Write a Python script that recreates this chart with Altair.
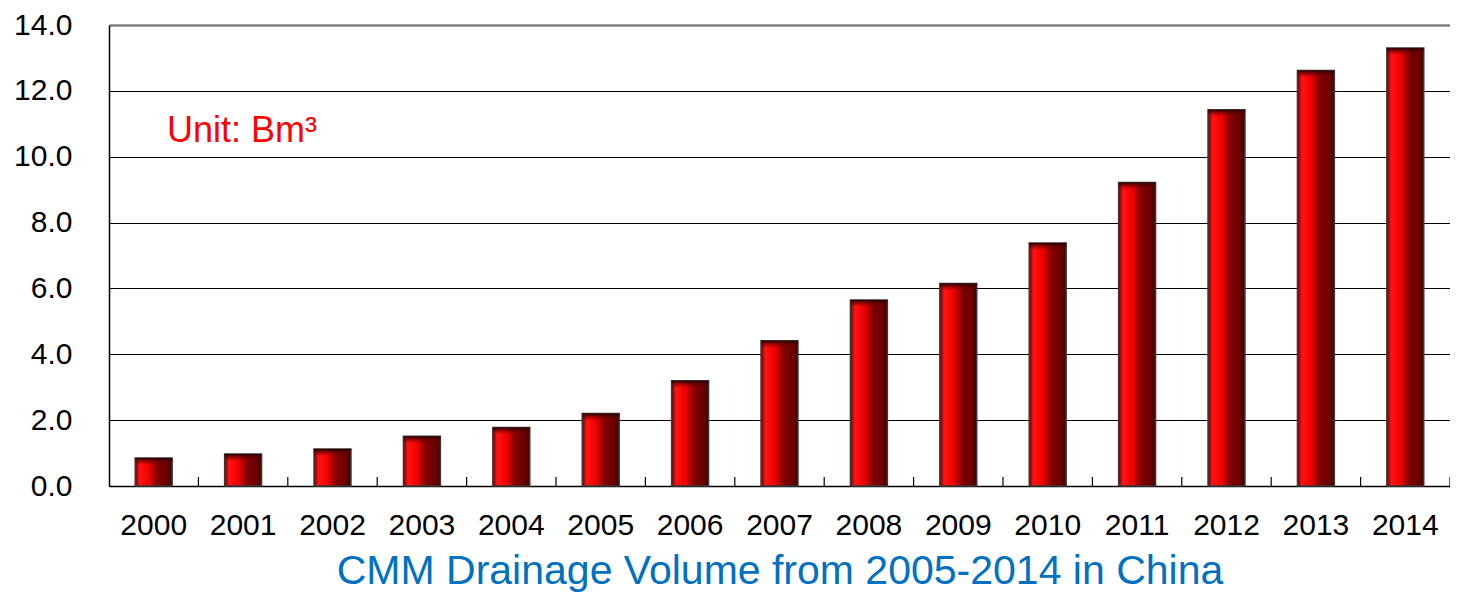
import altair as alt
import pandas as pd

years = ["2000", "2001", "2002", "2003", "2004", "2005", "2006", "2007",
         "2008", "2009", "2010", "2011", "2012", "2013", "2014"]
volumes = [0.85, 0.97, 1.12, 1.51, 1.78, 2.20, 3.20, 4.41,
           5.65, 6.15, 7.38, 9.22, 11.43, 12.62, 13.30]
y_ticks = [0, 2, 4, 6, 8, 10, 12, 14]
title_text = "CMM Drainage Volume from 2005-2014 in China"
unit_text = "Unit: Bm³"

df = pd.DataFrame({"year": years, "v": volumes})

FONT = "Liberation Sans"
W, H = 1341, 461
N = len(years)
P_IN = 0.587
step = W / N

xscale = alt.Scale(paddingInner=P_IN, paddingOuter=P_IN / 2)
yscale = alt.Scale(domain=[0, 14], nice=False)

base = alt.Chart(df)

body_grad = alt.Gradient(
    gradient="linear", x1=0, x2=1, y1=0, y2=0,
    stops=[
        alt.GradientStop(color="#6a0000", offset=0.0),
        alt.GradientStop(color="#ff1414", offset=0.12),
        alt.GradientStop(color="#f00000", offset=0.38),
        alt.GradientStop(color="#b00000", offset=0.5),
        alt.GradientStop(color="#800000", offset=0.62),
        alt.GradientStop(color="#6a0000", offset=0.88),
        alt.GradientStop(color="#3a0000", offset=1.0),
    ],
)
cap_grad = alt.Gradient(
    gradient="linear", x1=0, x2=0, y1=0, y2=1,
    stops=[
        alt.GradientStop(color="#2a0000", offset=0.0),
        alt.GradientStop(color="rgba(120,0,0,0)", offset=1.0),
    ],
)

bars = base.mark_bar(color=body_grad, stroke="#3a3a3a", strokeWidth=1.5).encode(
    x=alt.X("year:N", scale=xscale, sort=years,
            axis=alt.Axis(title=title_text, labelAngle=0, ticks=False,
                          domain=True, domainColor="black", domainWidth=1.5,
                          labelFont=FONT, labelFontSize=30, labelColor="black",
                          labelPadding=24,
                          titleFont=FONT, titleFontSize=41, titleFontWeight="normal",
                          titleColor="#0070C0", titlePadding=11)),
    y=alt.Y("v:Q", scale=yscale,
            axis=alt.Axis(title=None, values=y_ticks, format=".1f",
                          labelFont=FONT, labelFontSize=30, labelColor="black",
                          labelPadding=37, ticks=False,
                          domain=True, domainColor="black", domainWidth=1.5,
                          grid=True,
                          gridColor=alt.condition("datum.value == 14",
                                                  alt.value("#808080"),
                                                  alt.value("black")),
                          gridWidth=alt.condition("datum.value == 14",
                                                  alt.value(2.5),
                                                  alt.value(1)))),
)

caps = base.transform_calculate(top2="datum.v - 0.22").mark_bar(
    color=cap_grad, strokeWidth=0
).encode(
    x=alt.X("year:N", scale=xscale, sort=years),
    y=alt.Y("v:Q", scale=yscale),
    y2="top2:Q",
)

ticks = base.mark_rule(color="black", strokeWidth=1.2, xOffset=step / 2).encode(
    x=alt.X("year:N", scale=xscale, sort=years),
    y=alt.value(H - 9),
    y2=alt.value(H),
)

unit = alt.Chart(pd.DataFrame({"t": [unit_text]})).mark_text(
    font=FONT, fontSize=36, color="#ff0000", align="left", baseline="alphabetic"
).encode(text="t:N", x=alt.value(58), y=alt.value(117))

chart = alt.layer(bars, caps, ticks, unit).properties(
    width=W, height=H,
    autosize=alt.AutoSizeParams(type="none"),
    padding={"left": 101, "top": 17, "right": 0, "bottom": 107},
    background="white",
).configure_view(stroke=None)

chart.save("out.html", embed_options={"renderer": "svg", "actions": False})
